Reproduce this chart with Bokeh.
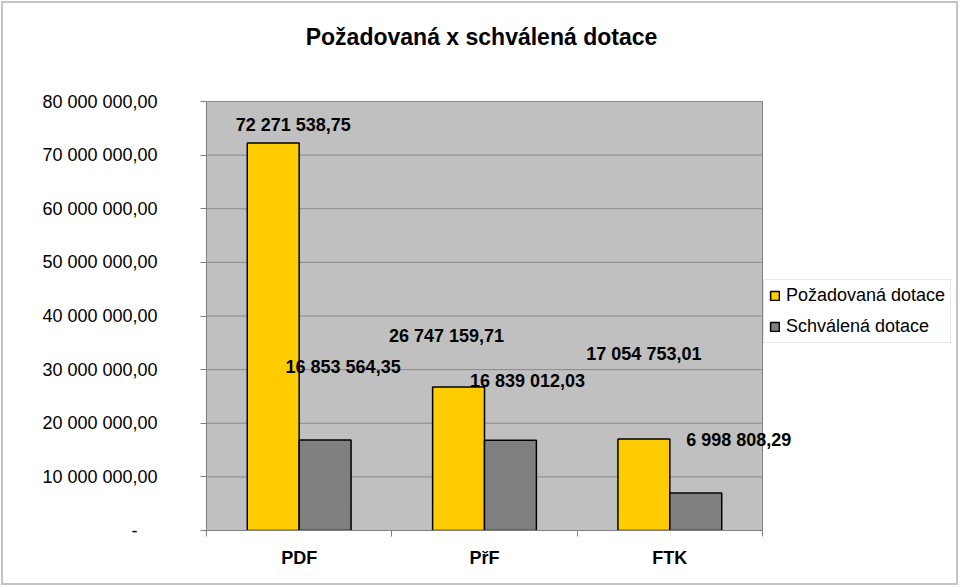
from bokeh.plotting import figure
from bokeh.models import (ColumnDataSource, FixedTicker, LabelSet, Label, Legend,
                          LegendItem, Range1d)
from bokeh.core.properties import value
from bokeh.embed import file_html
from bokeh.resources import INLINE

# ---- data ----
title_text = "Požadovaná x schválená dotace"
categories = ["PDF", "PřF", "FTK"]
series_names = ["Požadovaná dotace", "Schválená dotace"]
requested = [72271538.75, 26747159.71, 17054753.01]
approved = [16853564.35, 16839012.03, 6998808.29]
y_ticks = [0, 10000000, 20000000, 30000000, 40000000, 50000000, 60000000, 70000000, 80000000]

# ---- styles / label offsets (screen px, relative to bar top centre) ----
req_dx = [20, -12, 0]
req_dy = [18, 51, 85]
app_dx = [18, 17, 43]
app_dy = [73, 59, 53]

FONT = "Liberation Sans"
YELLOW = "#FFCC00"
GRAY = "#808080"
PLOT_BG = "#C0C0C0"

W, H = 960, 587
FRAME_L, FRAME_B = 206, 57
PLOT_AREA_W = 556  # px width of the grey plot area
PLOT_AREA_H = 429  # px height of the grey plot area
TITLE_CX, TITLE_CY = 481, 36  # title centre, px from top-left


def fmt(v):
    s = f"{v:,.2f}"
    return s.replace(",", " ").replace(".", ",")


n = len(categories)
bw = 0.28
x_req = [i + 0.5 - bw / 2 for i in range(n)]
x_app = [i + 0.5 + bw / 2 for i in range(n)]
# frame covers everything right of and above the axes; grey plot area is a sub-region
x_end = n * (W - FRAME_L) / PLOT_AREA_W
y_end = y_ticks[-1] * (H - FRAME_B) / PLOT_AREA_H

src_req = ColumnDataSource(dict(x=x_req, top=requested, txt=[fmt(v) for v in requested],
                                dx=req_dx, dy=req_dy))
src_app = ColumnDataSource(dict(x=x_app, top=approved, txt=[fmt(v) for v in approved],
                                dx=app_dx, dy=app_dy))

p = figure(width=W, height=H, output_backend="svg", toolbar_location=None,
           x_range=Range1d(0, x_end), y_range=Range1d(0, y_end),
           min_border_left=FRAME_L, min_border_right=0, min_border_top=0,
           min_border_bottom=FRAME_B)
p.background_fill_color = "white"
p.border_fill_color = "white"
p.outline_line_color = None
p.stylesheets = [":host { position: relative; } :host::after { content: ''; position: absolute; "
                 "left: 1px; top: 1px; width: 953px; height: 580px; border: 2px solid #c4c4c4; "
                 "z-index: 1000; pointer-events: none; }"]

# grey plot area
p.quad(left=[0], right=[n], bottom=[y_ticks[0]], top=[y_ticks[-1]],
       fill_color=PLOT_BG, line_color=GRAY, line_width=1)
# horizontal gridlines inside the plot area
p.segment(x0=[0] * len(y_ticks), x1=[n] * len(y_ticks), y0=y_ticks, y1=y_ticks,
          line_color="#8a8a8a", line_width=1)

r1 = p.vbar(x="x", top="top", width=bw, bottom=0, source=src_req, fill_color=YELLOW,
            line_color="black", line_width=1.5)
r2 = p.vbar(x="x", top="top", width=bw, bottom=0, source=src_app, fill_color=GRAY,
            line_color="black", line_width=1.5)

p.xgrid.grid_line_color = None
p.ygrid.grid_line_color = None

# y axis
p.yaxis.ticker = FixedTicker(ticks=y_ticks)
p.yaxis.bounds = (y_ticks[0], y_ticks[-1])
p.yaxis.major_label_overrides = {t: ("-\u00a0\u00a0\u00a0\u00a0" if t == 0 else fmt(t)) for t in y_ticks}
p.yaxis.axis_line_color = GRAY
p.yaxis.major_tick_line_color = GRAY
p.yaxis.major_tick_in = 0
p.yaxis.major_tick_out = 6
p.yaxis.minor_tick_line_color = None
p.yaxis.major_label_standoff = 43
p.yaxis.major_label_text_font = FONT
p.yaxis.major_label_text_font_size = "18px"
p.yaxis.major_label_text_color = "black"

# x axis
centers = [i + 0.5 for i in range(n)]
p.xaxis.ticker = FixedTicker(ticks=centers, minor_ticks=list(range(n + 1)))
p.xaxis.bounds = (0, n)
p.xaxis.major_label_overrides = {c: lab for c, lab in zip(centers, categories)}
p.xaxis.axis_line_color = GRAY
p.xaxis.major_tick_line_color = None
p.xaxis.major_tick_in = 0
p.xaxis.major_tick_out = 0
p.xaxis.minor_tick_line_color = GRAY
p.xaxis.minor_tick_in = 0
p.xaxis.minor_tick_out = 6
p.xaxis.major_label_standoff = 11
p.xaxis.major_label_text_font = FONT
p.xaxis.major_label_text_font_size = "18px"
p.xaxis.major_label_text_font_style = "bold"
p.xaxis.major_label_text_color = "black"

# data labels
for src in (src_req, src_app):
    ls = LabelSet(x="x", y="top", text="txt", x_offset="dx", y_offset="dy", source=src,
                  text_align="center", text_baseline="middle", text_font=value(FONT),
                  text_font_size=value("18px"), text_font_style="bold", text_color="black")
    p.add_layout(ls)

# title (positioned in data space of the extended frame)
p.add_layout(Label(x=(TITLE_CX - FRAME_L) / PLOT_AREA_W * n,
                   y=(H - FRAME_B - TITLE_CY) / PLOT_AREA_H * y_ticks[-1],
                   text=title_text, text_align="center", text_baseline="middle",
                   text_font=FONT, text_font_size="23px", text_font_style="bold",
                   text_color="black"))

# legend
legend = Legend(items=[LegendItem(label=series_names[0], renderers=[r1]),
                       LegendItem(label=series_names[1], renderers=[r2])],
                location=(557, 187), orientation="vertical",
                label_text_font=FONT, label_text_font_size="18px", label_text_color="black",
                glyph_width=11, glyph_height=11, label_standoff=6, label_height=20,
                spacing=10, padding=5, margin=0,
                border_line_color="#d0d0d0", border_line_width=1,
                background_fill_color="white", background_fill_alpha=1)
p.add_layout(legend)

open("out.html", "w").write(file_html(p, INLINE))
